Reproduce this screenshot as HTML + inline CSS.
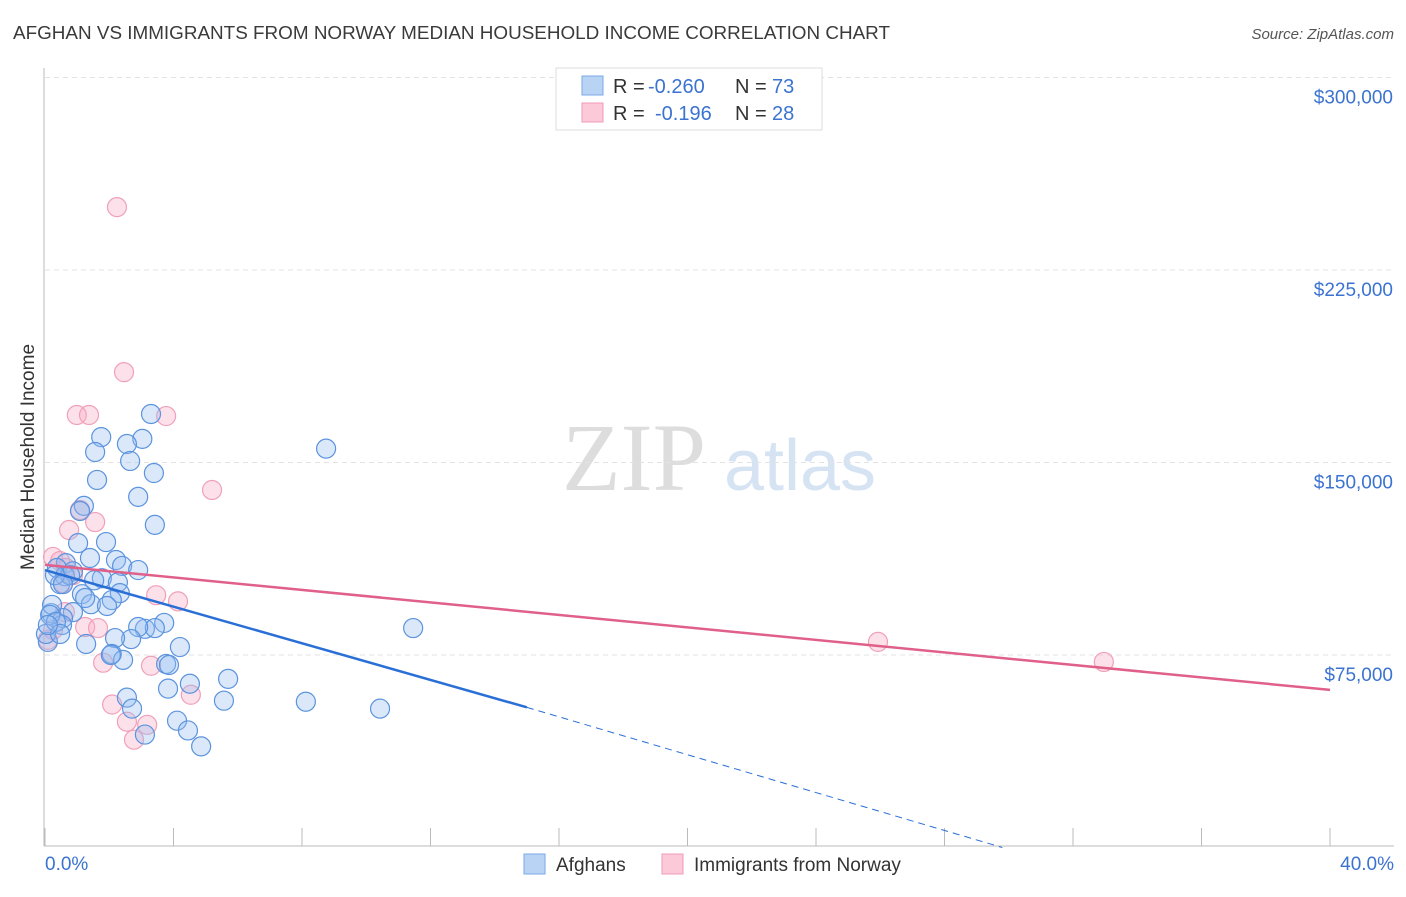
<!DOCTYPE html>
<html><head><meta charset="utf-8"><style>
body{margin:0;background:#fff;font-family:"Liberation Sans",sans-serif;}
</style></head><body>
<svg width="1406" height="892" xmlns="http://www.w3.org/2000/svg" font-family="Liberation Sans, sans-serif">
<text x="13" y="39" font-size="18" fill="#3a3a3a" textLength="877" lengthAdjust="spacingAndGlyphs">AFGHAN VS IMMIGRANTS FROM NORWAY MEDIAN HOUSEHOLD INCOME CORRELATION CHART</text>
<text x="1394" y="39" font-size="15" fill="#555" text-anchor="end" font-style="italic">Source: ZipAtlas.com</text>
<g>
<text x="634" y="490" font-size="96" fill="#ddd" font-family="Liberation Serif, serif" text-anchor="middle">ZIP</text>
<text x="800" y="490" font-size="72" fill="#d5e3f3" text-anchor="middle">atlas</text>
</g>
<g id="grid"></g>
<g id="axes"></g>
<text transform="translate(34,457) rotate(-90)" font-size="19" fill="#333" text-anchor="middle">Median Household Income</text>
<g id="marks"></g>
<g>
<rect x="556" y="68" width="266" height="62" fill="#fff" stroke="#ddd"/>
<rect x="582" y="76" width="21" height="19" fill="#b9d3f5" stroke="#7aa8e6"/>
<rect x="582" y="103" width="21" height="19" fill="#fcc9d8" stroke="#f09ab4"/>
<text x="613" y="93" font-size="20" fill="#333">R =</text>
<text x="648" y="93" font-size="20" fill="#3b73d1">-0.260</text>
<text x="735" y="93" font-size="20" fill="#333">N =</text>
<text x="772" y="93" font-size="20" fill="#3b73d1">73</text>
<text x="613" y="120" font-size="20" fill="#333">R =</text>
<text x="655" y="120" font-size="20" fill="#3b73d1">-0.196</text>
<text x="735" y="120" font-size="20" fill="#333">N =</text>
<text x="772" y="120" font-size="20" fill="#3b73d1">28</text>
</g>
<g>
<rect x="524" y="854" width="21" height="20" fill="#b9d3f5" stroke="#7aa8e6"/>
<text x="556" y="871" font-size="19" fill="#333">Afghans</text>
<rect x="662" y="854" width="21" height="20" fill="#fcc9d8" stroke="#f09ab4"/>
<text x="694" y="871" font-size="19" fill="#333">Immigrants from Norway</text>
</g>
</svg>
<script>
const yTicks=[75000,150000,225000,300000];
const yTickLabels=["$75,000","$150,000","$225,000","$300,000"];
const xTickLabels=["0.0%","40.0%"];
const blueX=[3.3,1.75,3.03,2.55,1.56,2.65,3.39,1.62,2.9,1.21,1.09,3.42,1.03,1.9,1.4,2.21,0.65,0.37,2.4,0.87,1.77,2.27,1.53,0.62,0.47,1.15,2.33,2.08,1.43,1.93,0.87,0.19,0.56,0.53,2.9,3.71,3.11,3.42,2.9,4.2,2.68,2.18,1.28,2.08,2.43,3.77,3.86,0.09,0.03,2.05,5.7,4.51,3.83,2.55,5.57,8.12,10.43,2.71,4.11,4.45,3.11,4.86,8.75,11.46,0.22,0.16,0.34,0.47,0.09,0.78,0.31,0.56,1.25];
const blueY=[168.9,159.9,159.2,157.2,154.1,150.6,145.9,143.2,136.6,133.1,131.1,125.7,118.6,119,112.8,112,110.8,108.9,109.7,107.6,104.9,103.3,104.1,105.7,102.6,98.7,99.1,96.4,94.8,94.1,91.7,91.3,89.4,86.7,108.1,87.5,85.2,85.5,85.9,78.1,81.2,81.6,79.3,75.4,73.1,71.5,71.1,80.1,83.2,75,65.7,63.8,61.9,58.4,57.2,56.8,54.1,54.1,49.4,45.6,44,39.4,155.4,85.5,94.5,90.6,87.9,83.2,86.7,106.1,106.1,102.6,97.2];
const pinkX=[2.24,2.46,0.99,1.37,3.77,5.2,1.09,1.56,0.75,0.25,0.47,0.65,0.87,0.56,3.46,4.14,0.62,1.25,1.65,0.09,0.25,1.81,3.3,4.54,2.09,2.55,3.18,2.77,25.93,32.96];
const pinkY=[249.5,185.2,168.5,168.5,168.1,139.3,131.5,126.8,123.7,113.2,111.6,108.9,106.1,103,98.3,95.9,91.7,85.9,85.5,80.9,84.8,72,70.8,59.5,55.7,49,47.8,42,80.1,72.3];
const blueTrend=[108.1,54.6,0];
const blueTrendX=[0,15,29.8];
const pinkTrend=[110.1,61.4];
const pinkTrendX=[0,40];
const NS="http://www.w3.org/2000/svg";
const X=p=>45+p/40*1285;
const Y=k=>847.5-k/75*192.5;
function mk(t,a,parent){const e=document.createElementNS(NS,t);for(const k in a)e.setAttribute(k,a[k]);document.getElementById(parent).appendChild(e);return e;}
yTicks.forEach((v,i)=>{
 const l=mk('line',{x1:45,x2:1394,y1:Y(v/1000),y2:Y(v/1000),stroke:'#e3e3e3','stroke-dasharray':'5,4'},'grid');
 
 
 const t=mk('text',{x:1393,y:Y(v/1000)+26,'font-size':19,fill:'#3b73d1','text-anchor':'end'},'axes');
 t.textContent=yTickLabels[i];
 
 
});
let ax=mk('line',{x1:44,x2:44,y1:68,y2:846,stroke:'#bbb'},'axes');


let bx=mk('line',{x1:44,x2:1394,y1:846,y2:846,stroke:'#bbb'},'axes');


for(let i=0;i<=10;i++){const tk=mk('line',{x1:X(i*4),x2:X(i*4),y1:828,y2:846,stroke:'#bbb'},'axes');
 
 }
[[0,'start',45],[1,'end',1394]].forEach(([i,a,x])=>{const t=mk('text',{x:x,y:870,'font-size':19,fill:'#3b73d1','text-anchor':a},'axes');t.textContent=xTickLabels[i];
 
 });
pinkX.forEach((x,i)=>{const c=mk('circle',{cx:X(x),cy:Y(pinkY[i]),r:9.5,fill:'rgba(248,170,195,0.35)',stroke:'#f0a0b8','stroke-width':1.2},'marks');
 
 });
blueX.forEach((x,i)=>{const c=mk('circle',{cx:X(x),cy:Y(blueY[i]),r:9.5,fill:'rgba(150,190,240,0.35)',stroke:'#5b93de','stroke-width':1.2},'marks');
 
 });
let bl=mk('line',{x1:X(blueTrendX[0]),y1:Y(blueTrend[0]),x2:X(blueTrendX[1]),y2:Y(blueTrend[1]),stroke:'#2a6fd6','stroke-width':2.5},'marks');


let bd=mk('line',{x1:X(blueTrendX[1]),y1:Y(blueTrend[1]),x2:X(blueTrendX[2]),y2:Y(blueTrend[2]),stroke:'#2a6fd6','stroke-width':1,'stroke-dasharray':'7,5'},'marks');


let pl=mk('line',{x1:X(pinkTrendX[0]),y1:Y(pinkTrend[0]),x2:X(pinkTrendX[1]),y2:Y(pinkTrend[1]),stroke:'#e0608a','stroke-width':2.5},'marks');


</script>
</body></html>
